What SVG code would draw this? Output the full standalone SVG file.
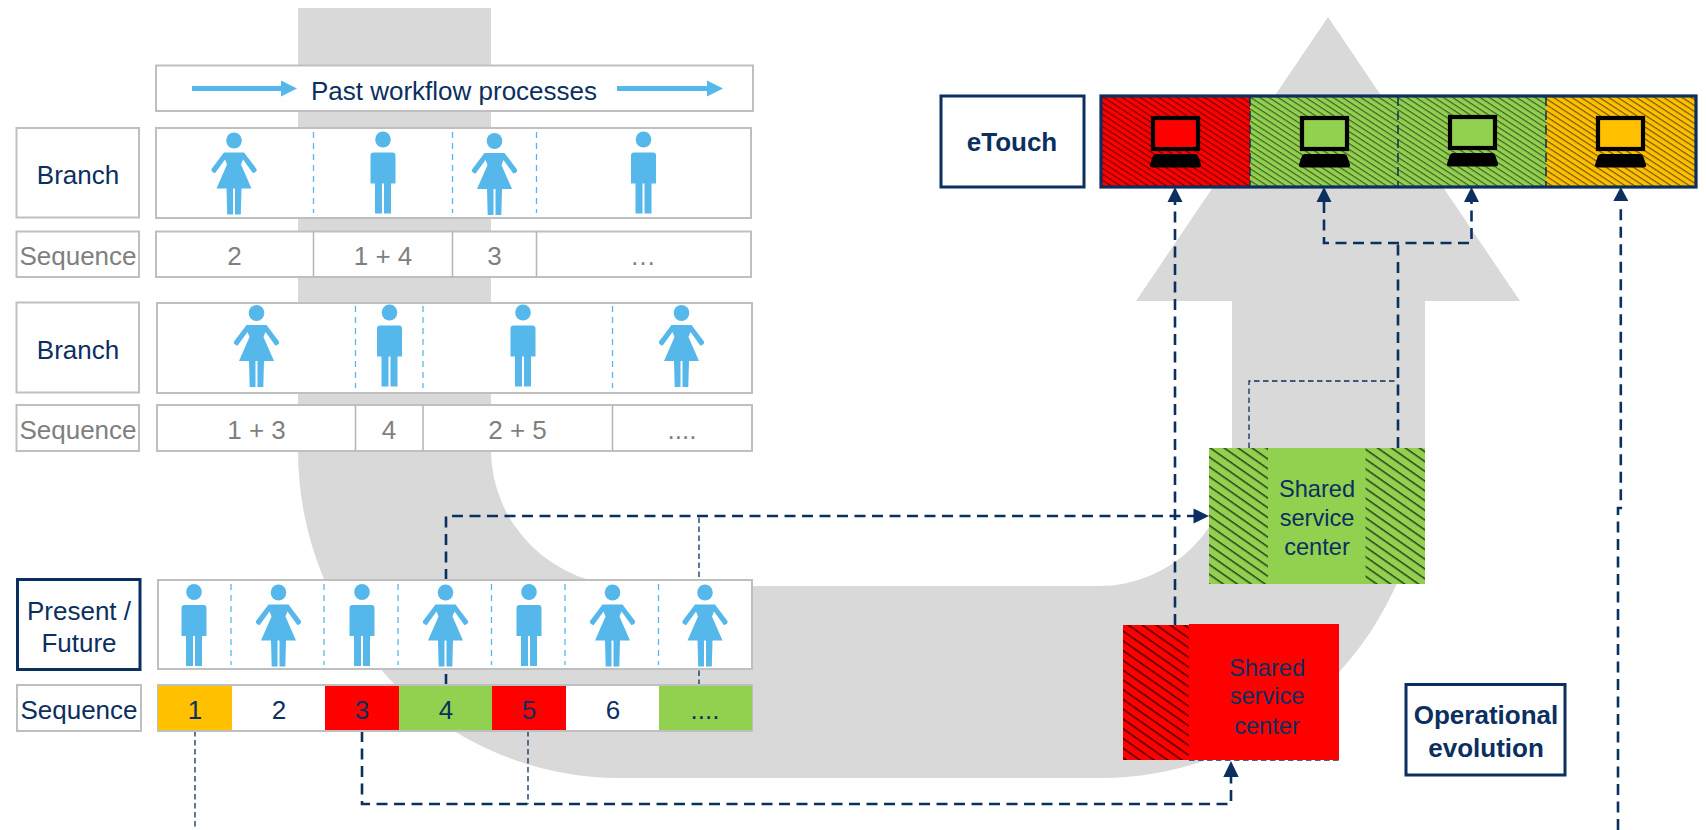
<svg xmlns="http://www.w3.org/2000/svg" xmlns:xlink="http://www.w3.org/1999/xlink" width="1706" height="830" viewBox="0 0 1706 830">
<style>
text{font-family:"Liberation Sans",Arial,sans-serif;font-size:26px;text-anchor:middle;fill:#0b2f5f}
.g{fill:#7f7f7f}
.b{font-weight:bold}
.s{font-size:23.6px}
.box{fill:#fff;stroke:#bfbfbf;stroke-width:2}
.dbox{fill:#fff;stroke:#0b2f5f;stroke-width:3}
.div{stroke:#b5b5b5;stroke-width:1.5;fill:none}
.sep{stroke:#56b8ea;stroke-width:1.3;stroke-dasharray:6 5;fill:none}
.thick{stroke:#0b2f5f;stroke-width:2.6;stroke-dasharray:11 6.5;fill:none}
.thin{stroke:#0b2f5f;stroke-width:1.3;stroke-dasharray:5.5 3.5;fill:none}
.ah{fill:#0b2f5f}
.p{fill:#56b8ea}
</style>
<defs>
<pattern id="h1" width="8" height="8" patternUnits="userSpaceOnUse" patternTransform="rotate(35)"><rect width="8" height="1.5" fill="#000" fill-opacity="0.7"/></pattern>
<pattern id="h2" width="5" height="5" patternUnits="userSpaceOnUse" patternTransform="rotate(33)"><rect width="5" height="1.2" fill="#000" fill-opacity="0.55"/></pattern>
<g id="woman" class="p">
<ellipse cx="0" cy="0" rx="7.8" ry="8"/>
<path d="M-10 12H10L22.5 28.5Q23 30.5 21.500 31.500L19 32.800L9 19L7 24L17.500 48H7.500L6.800 74H1V48H-1V74H-6.800L-7.500 48H-17.500L-7 24L-9 19L-19 32.800L-21.500 31.500Q-23 30.500-22.500 28.500Z"/>
</g>
<g id="man" class="p">
<ellipse cx="0" cy="0" rx="7.8" ry="8"/>
<path d="M-9.500 13H9.500Q12.500 13 12.500 16V44H8V74H1V44H-1V74H-8V44H-12.500V16Q-12.500 13-9.500 13Z"/>
</g>
<g id="pc">
<rect x="-22.500" y="-15.500" width="45" height="31" fill="none" stroke="#000" stroke-width="4.200"/>
<path d="M-20 20.500H20Q22 20.500 23 23.500L25.500 31Q26 34 23 34H-23Q-26 34-25.500 31L-23 23.500Q-22 20.500-20 20.500Z" fill="#000"/>
</g>
</defs>

<g id="evolution-arrow">
<path fill="#d9d9d9" d="M298 8H491V450A139 136 0 0 0 630 586H1099A133 134 0 0 0 1232 452V301H1136L1328 17L1520 301H1425V450A325 328 0 0 1 1100 778H620A322 328 0 0 1 298 450Z"/>
</g>

<g id="connectors">
<path class="thin" d="M195 731V830"/>
<path class="thick" d="M362 731V804H1231V777"/>
<path class="thin" d="M528 731V804"/>
<path class="thick" d="M446 685V516H1194"/>
<path class="thin" d="M699 685V516"/>
<path class="thick" d="M1175 625V202"/>
<path class="thick" d="M1398 448V243"/>
<path class="thick" d="M1324 202V243H1471.500V202"/>
<path class="thin" d="M1249 448V381H1398"/>
<path class="thick" d="M1618 830V508H1620.800V208"/>
<path class="thin" d="M1189 760H1339"/>
<path class="ah" d="M1231 761L1238.700 777H1223.300Z"/>
<path class="ah" d="M1209 516L1193.500 508.500V523.500Z"/>
<path class="ah" d="M1175 187L1182.500 202H1167.500Z"/>
<path class="ah" d="M1324 187L1331.500 202H1316.500Z"/>
<path class="ah" d="M1471.500 187L1479 202H1464Z"/>
<path class="ah" d="M1620.800 187L1628.300 201H1613.300Z"/>
</g>

<g id="past-workflow">
<rect class="box" x="156" y="65.500" width="597" height="45.500"/>
<path class="p" d="M192 86H281V80.500L297 88.500L281 96.500V91H192Z"/>
<path class="p" d="M617 86H707V80.500L723 88.500L707 96.500V91H617Z"/>
<text x="454" y="99.500">Past workflow processes</text>
</g>

<g id="branch-1-label"><rect class="box" x="16.500" y="128" width="122.500" height="89.500"/><text x="78" y="183.500">Branch</text></g>
<g id="branch-1">
<rect class="box" x="156" y="128" width="595" height="90"/>
<path class="sep" d="M313.500 132V213M452.500 132V213M536.500 132V213"/>
<use xlink:href="#woman" href="#woman" x="234" y="140.500"/>
<use xlink:href="#man" href="#man" x="383" y="139.500"/>
<use xlink:href="#woman" href="#woman" x="494.500" y="141"/>
<use xlink:href="#man" href="#man" x="643.500" y="139.500"/>
</g>
<g id="sequence-1-label"><rect class="box" x="16.500" y="231.500" width="122.500" height="45.500"/><text class="g" x="78" y="265">Sequence</text></g>
<g id="sequence-1">
<rect class="box" x="156" y="231.500" width="595" height="45.500"/>
<path class="div" d="M313.500 231.500V277M452.500 231.500V277M536.500 231.500V277"/>
<text class="g" x="234.500" y="265">2</text>
<text class="g" x="383" y="265">1 + 4</text>
<text class="g" x="494.500" y="265">3</text>
<text class="g" x="643" y="265">…</text>
</g>

<g id="branch-2-label"><rect class="box" x="16.500" y="302.500" width="122.500" height="90"/><text x="78" y="358.500">Branch</text></g>
<g id="branch-2">
<rect class="box" x="157" y="303" width="595" height="90"/>
<path class="sep" d="M355.500 306V388M423 306V388M612.500 306V388"/>
<use xlink:href="#woman" href="#woman" x="256.500" y="313"/>
<use xlink:href="#man" href="#man" x="389.500" y="312.500"/>
<use xlink:href="#man" href="#man" x="523" y="312.500"/>
<use xlink:href="#woman" href="#woman" x="681.500" y="313"/>
</g>
<g id="sequence-2-label"><rect class="box" x="16.500" y="405" width="122.500" height="46"/><text class="g" x="78" y="438.500">Sequence</text></g>
<g id="sequence-2">
<rect class="box" x="157" y="405" width="595" height="46"/>
<path class="div" d="M355.500 405V451M423 405V451M612.500 405V451"/>
<text class="g" x="256.500" y="438.500">1 + 3</text>
<text class="g" x="389" y="438.500">4</text>
<text class="g" x="517.500" y="438.500">2 + 5</text>
<text class="g" x="682" y="438.500">....</text>
</g>

<g id="present-label"><rect class="dbox" x="17.500" y="579.500" width="122.500" height="90"/><text x="79" y="620">Present /</text><text x="79" y="652">Future</text></g>
<g id="present">
<rect class="box" x="158" y="580" width="594" height="89"/>
<path class="sep" d="M231 584V665M324 584V665M398 584V665M491.500 584V665M565 584V665M658.500 584V665"/>
<use xlink:href="#man" href="#man" x="194" y="592"/>
<use xlink:href="#woman" href="#woman" x="278.500" y="592.500"/>
<use xlink:href="#man" href="#man" x="362" y="592"/>
<use xlink:href="#woman" href="#woman" x="445.500" y="592.500"/>
<use xlink:href="#man" href="#man" x="529" y="592"/>
<use xlink:href="#woman" href="#woman" x="612.500" y="592.500"/>
<use xlink:href="#woman" href="#woman" x="705" y="592.500"/>
</g>
<g id="sequence-3-label"><rect class="box" x="17" y="685" width="124" height="46"/><text x="79" y="718.500">Sequence</text></g>
<g id="sequence-3">
<rect class="box" x="158" y="685" width="594" height="46"/>
<rect x="158" y="686" width="74" height="44" fill="#ffc000"/>
<rect x="325" y="686" width="74" height="44" fill="#ff0000"/>
<rect x="399" y="686" width="93" height="44" fill="#92d050"/>
<rect x="492" y="686" width="74" height="44" fill="#ff0000"/>
<rect x="659" y="686" width="93" height="44" fill="#92d050"/>
<text x="195" y="718.500">1</text>
<text x="279" y="718.500">2</text>
<text x="362" y="718.500">3</text>
<text x="446" y="718.500">4</text>
<text x="529" y="718.500">5</text>
<text x="613" y="718.500">6</text>
<text x="705" y="718.500">....</text>
</g>

<g id="etouch-label"><rect class="dbox" x="941" y="96" width="143" height="91"/><text class="b" x="1012" y="151">eTouch</text></g>
<g id="etouch">
<rect x="1101" y="96" width="149" height="91" fill="#ff0000"/>
<rect x="1250" y="96" width="296" height="91" fill="#92d050"/>
<rect x="1546" y="96" width="150" height="91" fill="#ffc000"/>
<rect x="1101" y="96" width="595" height="91" fill="url(#h2)"/>
<path d="M1250 97V186M1398 97V186M1546 97V186" stroke="#0b2f5f" stroke-width="1.5" stroke-dasharray="9 5" fill="none"/>
<rect x="1101" y="96" width="595" height="91" fill="none" stroke="#0b2f5f" stroke-width="3.200"/>
<rect x="1153" y="118" width="45" height="31" fill="#ff0000"/>
<use xlink:href="#pc" href="#pc" x="1175.500" y="133.500"/>
<rect x="1302" y="118" width="45" height="31" fill="#92d050"/>
<use xlink:href="#pc" href="#pc" x="1324.500" y="133.500"/>
<rect x="1450" y="117" width="45" height="31" fill="#92d050"/>
<use xlink:href="#pc" href="#pc" x="1472.500" y="132.500"/>
<rect x="1598" y="118" width="45" height="31" fill="#ffc000"/>
<use xlink:href="#pc" href="#pc" x="1620.500" y="133.500"/>
</g>

<g id="shared-green">
<rect x="1209" y="448" width="216" height="136" fill="#92d050"/>
<rect x="1209" y="448" width="59" height="136" fill="url(#h1)"/>
<rect x="1365.500" y="448" width="59.500" height="136" fill="url(#h1)"/>
<text class="s" x="1317" y="496.500">Shared</text>
<text class="s" x="1317" y="525.500">service</text>
<text class="s" x="1317" y="554.500">center</text>
</g>

<g id="shared-red">
<rect x="1123" y="625" width="66" height="135" fill="#ff0000"/>
<rect x="1123" y="625" width="66" height="135" fill="url(#h1)"/>
<rect x="1189" y="624" width="150" height="136" fill="#ff0000"/>
<text class="s" x="1267" y="675.500">Shared</text>
<text class="s" x="1267" y="704">service</text>
<text class="s" x="1267" y="733.500">center</text>
</g>

<g id="operational-evolution"><rect class="dbox" x="1406" y="684.500" width="159" height="90.500"/><text class="b" x="1486" y="724">Operational</text><text class="b" x="1486" y="757">evolution</text></g>
</svg>
